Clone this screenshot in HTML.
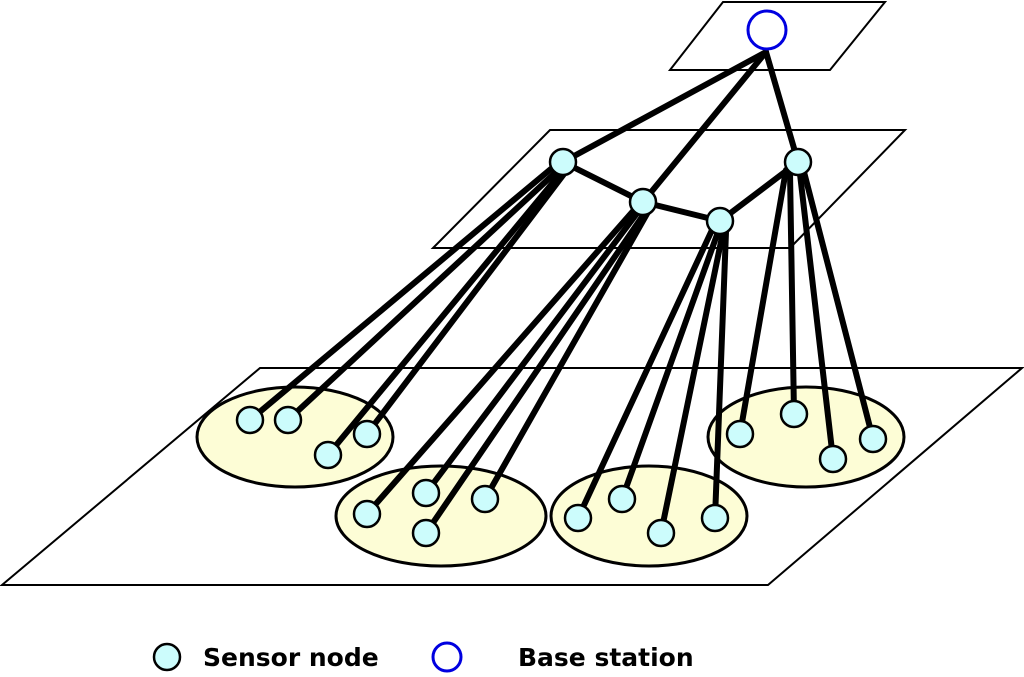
<!DOCTYPE html>
<html><head><style>body{margin:0;background:#fff}svg{display:block}</style></head><body>
<svg width="1024" height="677" viewBox="0 0 1024 677" xmlns="http://www.w3.org/2000/svg">
<g fill="none" stroke="#000" stroke-width="2">
<polygon points="723,2 885,2 830,70 670,70"/>
<polygon points="550,130 905,130 790,248 433,248"/>
<polygon points="260,368 1022,368 768,585 2,585"/>
</g>
<g fill="#fdfdd6" stroke="#000" stroke-width="3">
<ellipse cx="295" cy="437" rx="98" ry="50"/>
<ellipse cx="441" cy="516" rx="105" ry="50"/>
<ellipse cx="649" cy="516" rx="98" ry="50"/>
<ellipse cx="806" cy="437" rx="98" ry="50"/>
</g>
<g stroke="#000" stroke-width="6" stroke-linecap="round">
<line x1="766" y1="52" x2="563" y2="162"/>
<line x1="766" y1="52" x2="643" y2="202"/>
<line x1="766" y1="52" x2="798" y2="162"/>
<line x1="563" y1="162" x2="643" y2="202"/>
<line x1="643" y1="202" x2="720" y2="221"/>
<line x1="720" y1="221" x2="798" y2="162"/>
<line x1="552" y1="168" x2="250" y2="420"/>
<line x1="556" y1="172" x2="288" y2="420"/>
<line x1="560" y1="174" x2="328" y2="455"/>
<line x1="564" y1="174" x2="367" y2="434"/>
<line x1="634" y1="210" x2="367" y2="514"/>
<line x1="638" y1="212" x2="426" y2="493"/>
<line x1="644" y1="214" x2="426" y2="533"/>
<line x1="648" y1="212" x2="485" y2="499"/>
<line x1="712" y1="230" x2="578" y2="518"/>
<line x1="718" y1="232" x2="622" y2="499"/>
<line x1="723" y1="232" x2="661" y2="533"/>
<line x1="726" y1="232" x2="715" y2="518"/>
<line x1="786" y1="170" x2="740" y2="434"/>
<line x1="790" y1="172" x2="794" y2="414"/>
<line x1="800" y1="174" x2="833" y2="459"/>
<line x1="804" y1="172" x2="873" y2="439"/>
</g>
<g fill="#ccfcfc" stroke="#000" stroke-width="2.5">
<circle cx="563" cy="162" r="13"/><circle cx="643" cy="202" r="13"/><circle cx="720" cy="221" r="13"/><circle cx="798" cy="162" r="13"/>
<circle cx="250" cy="420" r="13"/><circle cx="288" cy="420" r="13"/><circle cx="328" cy="455" r="13"/><circle cx="367" cy="434" r="13"/>
<circle cx="367" cy="514" r="13"/><circle cx="426" cy="493" r="13"/><circle cx="485" cy="499" r="13"/><circle cx="426" cy="533" r="13"/>
<circle cx="578" cy="518" r="13"/><circle cx="622" cy="499" r="13"/><circle cx="661" cy="533" r="13"/><circle cx="715" cy="518" r="13"/>
<circle cx="740" cy="434" r="13"/><circle cx="794" cy="414" r="13"/><circle cx="833" cy="459" r="13"/><circle cx="873" cy="439" r="13"/>
<circle cx="167" cy="657" r="13"/>
</g>
<circle cx="767" cy="30" r="19" fill="#fff" stroke="#0000e0" stroke-width="3"/>
<circle cx="447" cy="657" r="14" fill="#fff" stroke="#0000e0" stroke-width="3"/>
<g font-family="'DejaVu Sans', sans-serif" font-weight="bold" font-size="25" fill="#000">
<text x="203" y="666">Sensor node</text>
<text x="518" y="666">Base station</text>
</g>
</svg>
</body></html>
